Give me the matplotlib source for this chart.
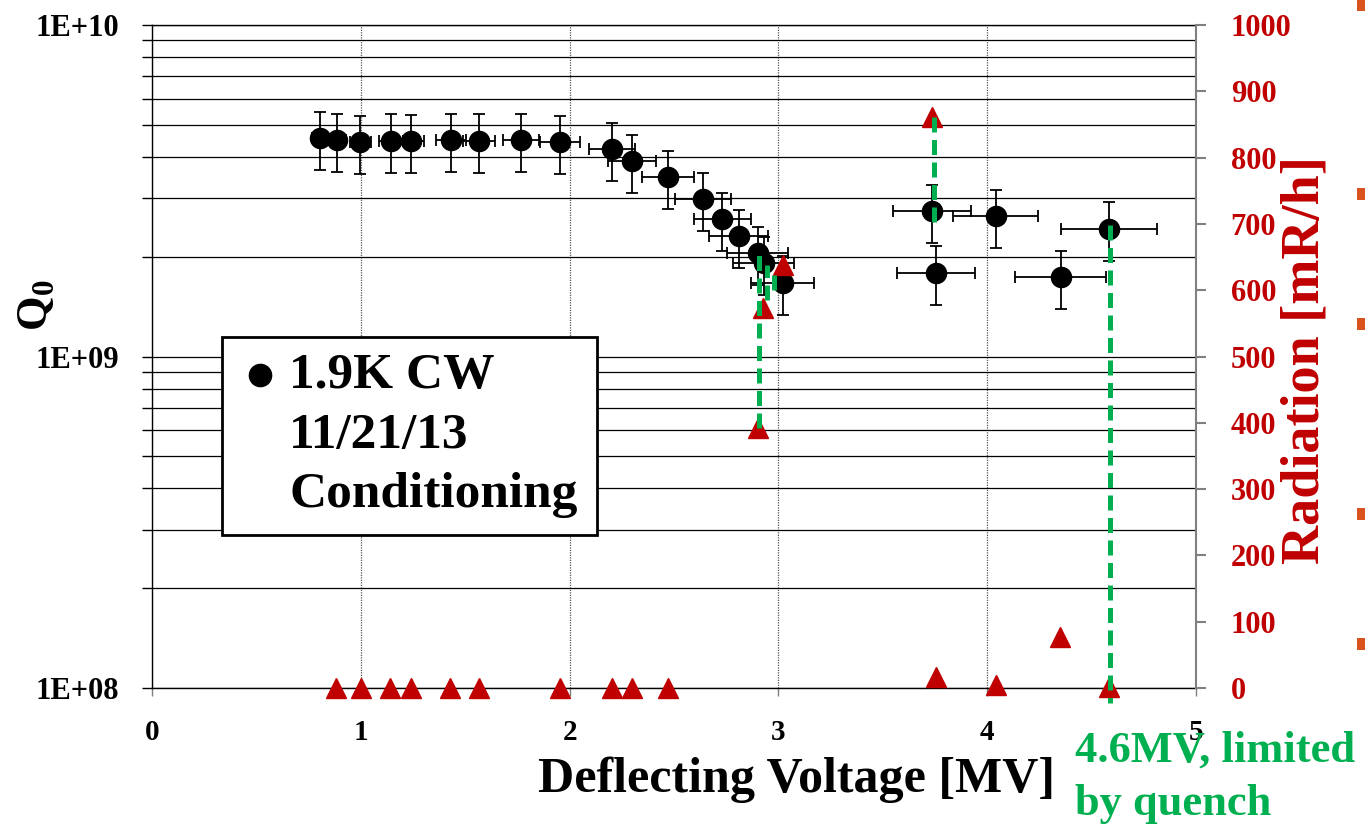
import matplotlib
matplotlib.use("Agg")
import matplotlib.pyplot as plt
from matplotlib.patches import Rectangle
from matplotlib.ticker import LogLocator, NullFormatter

plt.rcParams['font.family'] = ['Liberation Serif', 'DejaVu Serif']
plt.rcParams['font.weight'] = 'bold'
plt.rcParams['mathtext.fontset'] = 'custom'
plt.rcParams['mathtext.rm'] = 'Liberation Serif'
plt.rcParams['mathtext.bf'] = 'Liberation Serif:bold'

# ---- data: Q0 vs deflecting voltage ----
voltage_mv = [0.805, 0.886, 0.997, 1.145, 1.24, 1.43, 1.566, 1.767, 1.954,
              2.203, 2.299, 2.471, 2.639, 2.73, 2.81, 2.90, 2.93, 3.02,
              3.735, 3.755, 4.04, 4.353, 4.583]
q0 = [4.56e9, 4.50e9, 4.44e9, 4.48e9, 4.47e9, 4.50e9, 4.48e9, 4.50e9, 4.43e9,
      4.23e9, 3.89e9, 3.48e9, 2.99e9, 2.60e9, 2.31e9, 2.05e9, 1.91e9, 1.67e9,
      2.75e9, 1.79e9, 2.65e9, 1.74e9, 2.43e9]
Q0_ERR_FRAC = 0.20      # percentage error bars (Q0)
V_ERR_FRAC = 0.05       # percentage error bars (voltage)

# ---- data: radiation ----
rad_voltage = [0.881, 1.0, 1.14, 1.24, 1.427, 1.566, 1.954, 2.203, 2.299, 2.471,
               2.90, 2.925, 3.02, 3.735, 3.755, 4.04, 4.35, 4.583]
radiation = [0, 0, 0, 0, 0, 0, 0, 0, 0, 0,
             392, 573, 638, 861, 17, 5, 77, 2]

# ---- green dashed connectors (x, radiation start, radiation end) ----
conn_x = [2.907, 2.947, 2.979, 3.745, 4.588]
conn_r0 = [392, 585, 600, 861, 698]
conn_r1 = [661, 638, 626, 697, -23]

x_ticks = [0, 1, 2, 3, 4, 5]
q_ticks = [1e8, 1e9, 1e10]
q_tick_labels = ['1E+08', '1E+09', '1E+10']
rad_ticks = list(range(0, 1001, 100))

RED = '#C00000'
GREEN = '#00B050'

W, H = 1365, 836
fig = plt.figure(figsize=(W / 100, H / 100), dpi=100)
L, R_, T, B = 152, 1196, 25, 688
ax = fig.add_axes([L / W, 1 - B / H, (R_ - L) / W, (B - T) / H])

ax.set_xlim(0, 5)
ax.set_yscale('log')
ax.set_ylim(1e8, 1e10)

# errorbars + circles
ax.errorbar(voltage_mv, q0,
            xerr=[v * V_ERR_FRAC for v in voltage_mv],
            yerr=[q * Q0_ERR_FRAC for q in q0],
            fmt='o', color='black', markersize=14.5, ecolor='black',
            elinewidth=1.3, capsize=4.3, capthick=1.3, zorder=3)

# grids
ax.yaxis.set_major_locator(LogLocator(base=10, numticks=10))
ax.yaxis.set_minor_locator(LogLocator(base=10, subs=range(2, 10), numticks=20))
ax.yaxis.set_minor_formatter(NullFormatter())
ax.set_yticks(q_ticks, labels=q_tick_labels)
ax.grid(True, axis='y', which='both', color='black', lw=0.9, zorder=0)
ax.set_xticks(x_ticks)
ax.grid(True, axis='x', which='major', color='#555555', lw=0.9,
        linestyle=(0, (1, 1)), zorder=0)
ax.set_axisbelow(True)

ax.tick_params(axis='y', which='both', direction='out', length=7, width=1,
               color='black', labelsize=22, pad=17, right=False)
ax.tick_params(axis='x', which='both', direction='out', length=6, width=1,
               color='#808080', labelsize=21, pad=16, top=False)
for lab in ax.get_xticklabels() + ax.get_yticklabels():
    lab.set_fontweight('bold')

for s in ['left', 'bottom', 'top']:
    ax.spines[s].set_color('black')
    ax.spines[s].set_linewidth(1.0)
ax.spines['right'].set_visible(False)

ax.set_xlabel('Deflecting Voltage [MV]', fontsize=36, fontweight='bold')
ax.xaxis.label.set_va('baseline')
ax.xaxis.set_label_coords((796 - L) / (R_ - L), (B - 792) / (B - T))

ax.set_ylabel(r'$\mathbf{Q}_{\mathbf{0}}$', fontsize=32)
ax.yaxis.label.set_va('center')
ax.yaxis.set_label_coords((37 - L) / (R_ - L), (B - 305) / (B - T))

# legend-like box
box = Rectangle(((222 - L) / (R_ - L), (B - 535) / (B - T)),
                (597 - 222) / (R_ - L), (535 - 337) / (B - T),
                transform=ax.transAxes, facecolor='white', edgecolor='black',
                lw=2, zorder=5)
ax.add_patch(box)
ax.plot([(260 - L) / (R_ - L)], [(B - 375) / (B - T)], 'o', color='black',
        markersize=16, transform=ax.transAxes, zorder=6)
for txt, base in [('1.9K CW', 388), ('11/21/13', 448), ('Conditioning', 507)]:
    ax.text((289 - L) / (R_ - L), (B - base) / (B - T), txt, transform=ax.transAxes,
            fontsize=37, fontweight='bold', va='baseline', ha='left', zorder=6)

# secondary axis: radiation
ax2 = ax.twinx()
ax2.set_ylim(0, 1000)
ax2.set_yticks(rad_ticks)
ax2.plot(rad_voltage, radiation, linestyle='none', marker='^', color=RED,
         markersize=14, clip_on=False, zorder=4)
for x, r0, r1 in zip(conn_x, conn_r0, conn_r1):
    ax2.plot([x, x], [r0, r1], color=GREEN, lw=3.6, linestyle=(0, (3, 1.5)),
             dash_capstyle='butt', clip_on=False, zorder=6)

for s in ['left', 'bottom', 'top']:
    ax2.spines[s].set_visible(False)
ax2.spines['right'].set_color('#808080')
ax2.spines['right'].set_linewidth(1.5)
ax2.tick_params(axis='y', direction='out', length=7, width=1.5, color='#808080',
                labelcolor=RED, labelsize=22, pad=18)
for lab in ax2.get_yticklabels():
    lab.set_fontweight('bold')
ax2.set_ylabel('Radiation [mR/h]', color=RED, fontsize=39, fontweight='bold',
               rotation=90)
ax2.yaxis.label.set_va('center')
ax2.yaxis.set_label_coords((1306 - L) / (R_ - L), (B - 360) / (B - T))

# annotation text
fig.text(1075 / W, 1 - 762 / H, '4.6MV, limited', color=GREEN, fontsize=32,
         fontweight='bold', va='baseline', ha='left', zorder=10)
fig.text(1075 / W, 1 - 815 / H, 'by quench', color=GREEN, fontsize=32,
         fontweight='bold', va='baseline', ha='left', zorder=10)

# slide bullet marks at right edge
for yc in [5, 194, 324, 514, 644]:
    fig.add_artist(Rectangle((1357 / W, 1 - (yc + 6) / H), 9 / W, 12 / H,
                             transform=fig.transFigure, facecolor='#D9531E',
                             edgecolor='none'))

fig.savefig('out.png', dpi=100)
